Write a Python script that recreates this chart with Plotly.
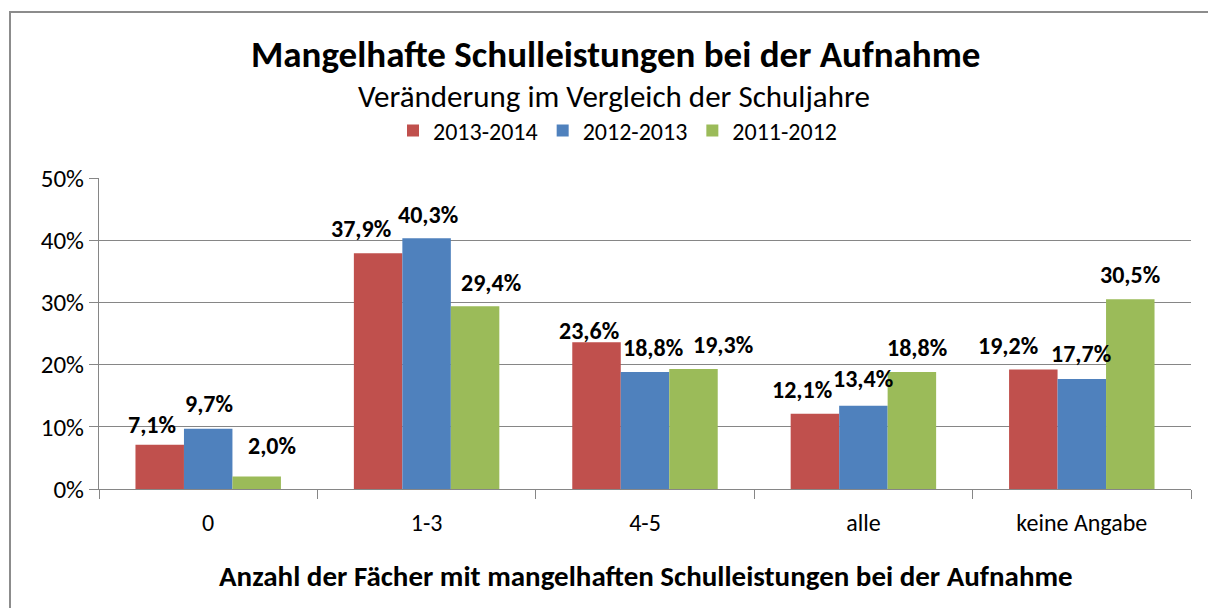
import plotly.graph_objects as go

categories = ["0", "1-3", "4-5", "alle", "keine Angabe"]
series_names = ["2013-2014", "2012-2013", "2011-2012"]
values_2013_2014 = [7.1, 37.9, 23.6, 12.1, 19.2]
values_2012_2013 = [9.7, 40.3, 18.8, 13.4, 17.7]
values_2011_2012 = [2.0, 29.4, 19.3, 18.8, 30.5]
colors = ["#C0504D", "#4F81BD", "#9BBB59"]
y_ticks = [0, 10, 20, 30, 40, 50]

# label placement tweaks (pixels) relative to each bar top centre, as in the reference
label_dx = [[-8, -17, -8, -13, -25], [1, 1, 8, 0, -1], [15, 16, 30, 5, 0]]
label_dy = [[20, 25, 12, 24, 24], [25, 24, 25, 27, 25], [31, 24, 24, 25, 25]]

FONT = "Carlito, Calibri, Lato, sans-serif"

W, H = 1208, 608
L, R, T, B = 99, 17, 178, 119
pw, ph = W - L - R, H - T - B
BARGAP = 0.334
bar_w = pw / len(categories) * (1 - BARGAP) / len(series_names)

def px_x(x):
    return (x - L) / pw

def px_y(y):
    return (H - B - y) / ph

all_values = [values_2013_2014, values_2012_2013, values_2011_2012]

fig = go.Figure()
annotations = []
for i, (name, vals, col) in enumerate(zip(series_names, all_values, colors)):
    fig.add_trace(go.Bar(
        x=categories, y=vals, name=name,
        marker=dict(color=col, line=dict(width=0)),
        hoverinfo="skip",
    ))
    for j, v in enumerate(vals):
        annotations.append(dict(
            text="<b>" + f"{v:.1f}%".replace(".", ",") + "</b>",
            x=categories[j], y=v, xref="x", yref="y",
            xshift=(i - 1) * bar_w + label_dx[i][j], yshift=label_dy[i][j],
            xanchor="center", yanchor="middle", showarrow=False,
            font=dict(family=FONT, size=24, color="black"),
        ))

annotations += [
    dict(text="<b>Mangelhafte Schulleistungen bei der Aufnahme</b>", xref="paper", yref="paper",
         x=px_x(615), y=px_y(55), xanchor="center", yanchor="middle", showarrow=False,
         font=dict(family=FONT, size=37)),
    dict(text="Veränderung im Vergleich der Schuljahre", xref="paper", yref="paper",
         x=px_x(614), y=px_y(96), xanchor="center", yanchor="middle", showarrow=False,
         font=dict(family=FONT, size=31)),
    dict(text="<b>Anzahl der Fächer mit mangelhaften Schulleistungen bei der Aufnahme</b>",
         xref="paper", yref="paper",
         x=px_x(646), y=px_y(576), xanchor="center", yanchor="middle", showarrow=False,
         font=dict(family=FONT, size=29)),
]

fig.update_layout(
    width=W, height=H,
    margin=dict(l=L, r=R, t=T, b=B, autoexpand=False),
    paper_bgcolor="white", plot_bgcolor="white",
    barmode="group", bargap=BARGAP, bargroupgap=0,
    font=dict(family=FONT, color="black"),
    showlegend=True,
    legend=dict(orientation="h", x=px_x(618), xanchor="center", y=px_y(131), yanchor="middle",
                font=dict(family=FONT, size=24), itemwidth=30, tracegroupgap=0,
                bgcolor="rgba(0,0,0,0)"),
    xaxis=dict(type="category", showline=True, linecolor="#868686", linewidth=1,
               ticks="outside", ticklen=9, tickcolor="#868686", tickson="boundaries",
               tickfont=dict(family=FONT, size=24), ticklabelstandoff=12, showgrid=False),
    yaxis=dict(range=[0, 50], tickvals=y_ticks, ticktext=[f"{v}%" for v in y_ticks],
               showgrid=True, gridcolor="#868686", gridwidth=1,
               showline=True, linecolor="#868686", linewidth=1,
               ticks="outside", ticklen=9, tickcolor="#868686",
               tickfont=dict(family=FONT, size=25), zeroline=False),
    annotations=annotations,
    shapes=[
        dict(type="rect", xref="paper", yref="paper", x0=px_x(10), y0=px_y(700), x1=px_x(1300), y1=px_y(12),
             line=dict(color="#8C8C8C", width=2), layer="below"),
    ],
)

fig.write_html("out.html", config={"displayModeBar": False},
               post_script="document.body.style.margin='0';document.body.style.padding='0';")
